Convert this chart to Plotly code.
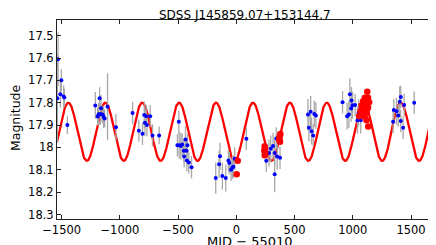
import numpy as np
import plotly.graph_objects as go

title_text = "SDSS J145859.07+153144.7"
x_label = "MJD \u2212 55010"
y_label = "Magnitude"

# Blue photometry: MJD-55010, magnitude, error
blue_t = [-1537, -1531, -1511, -1503, -1483, -1477, -1451,
          -1211, -1174, -1162, -1183, -1191, -1168, -1148, -1140, -1131, -1106, -1034,
          -891, -837, -806, -791, -785, -774, -768, -740, -720, -663,
          -494, -506, -491, -477, -465, -437, -420, -451, -428, -448, -425, -408, -385,
          -177, -148, -140, -120, -91, -68, -60, -45, -34, -26, -14, 86,
          257, 280, 295, 315, 329, 343, 351, 375, 329,
          615, 638, 669, 683, 623, 646, 660,
          912, 975, 989, 998, 1020, 986, 966, 951, 1050, 1040, 1068,
          1352, 1375, 1412, 1403, 1441, 1390, 1412, 1346, 1432, 1527]
blue_mag = [17.780, 17.606, 17.762, 17.700, 17.772, 17.777, 17.900,
            17.812, 17.780, 17.825, 17.851, 17.862, 17.850, 17.853, 17.863, 17.870, 17.818, 17.910,
            17.846, 17.925, 17.939, 17.855, 17.890, 17.860, 17.900, 17.860, 17.946, 17.946,
            17.885, 17.990, 17.990, 17.994, 17.987, 17.964, 17.990, 18.015, 18.015, 18.040, 18.058, 18.067, 18.088,
            18.137, 18.075, 18.039, 18.128, 18.137, 18.058, 18.070, 18.100, 18.090, 18.086, 18.050, 17.961,
            18.060, 18.025, 18.006, 17.994, 18.025, 17.960, 18.040, 18.046, 18.120,
            17.853, 17.840, 17.850, 17.857, 17.912, 17.927, 17.946,
            17.798, 17.762, 17.790, 17.811, 17.810, 17.826, 17.853, 17.860, 17.845, 17.878, 17.878,
            17.833, 17.838, 17.774, 17.796, 17.810, 17.857, 17.882, 17.885, 17.912, 17.800]
blue_err = [0.20, 0.12, 0.06, 0.05, 0.05, 0.04, 0.04,
            0.06, 0.05, 0.06, 0.05, 0.04, 0.05, 0.04, 0.05, 0.04, 0.15, 0.06,
            0.05, 0.05, 0.05, 0.06, 0.06, 0.05, 0.05, 0.05, 0.05, 0.04,
            0.05, 0.05, 0.06, 0.06, 0.05, 0.06, 0.05, 0.05, 0.05, 0.05, 0.05, 0.05, 0.05,
            0.07, 0.06, 0.06, 0.06, 0.06, 0.05, 0.05, 0.05, 0.05, 0.05, 0.05, 0.05,
            0.05, 0.06, 0.06, 0.06, 0.06, 0.05, 0.06, 0.05, 0.08,
            0.07, 0.07, 0.06, 0.06, 0.06, 0.06, 0.05,
            0.05, 0.07, 0.06, 0.06, 0.05, 0.06, 0.06, 0.06, 0.06, 0.06, 0.06,
            0.05, 0.06, 0.05, 0.07, 0.05, 0.05, 0.05, 0.05, 0.05, 0.05]

# Red photometry
red_t = [3, 12,
         243, 246, 240, 248, 243,
         378, 372, 368, 375,
         1124, 1103, 1131, 1089, 1140, 1112, 1075, 1131, 1094, 1066, 1118, 1083, 1054, 1103, 1118, 1132]
red_mag = [18.120, 18.060,
           17.995, 18.005, 18.015, 18.025, 18.035,
           17.940, 17.952, 17.965, 17.975,
           17.751, 17.778, 17.778, 17.793, 17.798, 17.808, 17.812, 17.823, 17.830, 17.838, 17.842, 17.853, 17.860, 17.863, 17.878, 17.906]

# Sinusoidal model parameters
model_period = 317.0
model_mean = 17.93
model_amp = 0.13
model_t_faint = -1284.0

x_ticks = [-1500, -1000, -500, 0, 500, 1000, 1500]
x_ticktext = ["\u22121500", "\u22121000", "\u2212500", "0", "500", "1000", "1500"]
y_ticks = [17.5, 17.6, 17.7, 17.8, 17.9, 18.0, 18.1, 18.2, 18.3]
y_ticktext = ["17.5", "17.6", "17.7", "17.8", "17.9", "18", "18.1", "18.2", "18.3"]

t_model = np.linspace(-1540, 1680, 1200)
mag_model = model_mean + model_amp * np.cos(2 * np.pi * (t_model - model_t_faint) / model_period)

fig = go.Figure()
fig.add_trace(go.Scatter(x=t_model, y=mag_model, mode="lines",
                         line=dict(color="#FF0000", width=2.3), hoverinfo="skip"))
fig.add_trace(go.Scatter(x=blue_t, y=blue_mag, mode="markers",
                         marker=dict(color="#0000FF", size=4),
                         error_y=dict(type="data", array=blue_err, visible=True,
                                      color="#A8A8A8", thickness=1.3, width=0)))
fig.add_trace(go.Scatter(x=red_t, y=red_mag, mode="markers",
                         marker=dict(color="#FF0000", size=6.5)))

font_family = "DejaVu Sans, Arial, sans-serif"
axis_common = dict(showgrid=False, zeroline=False, showline=True, linecolor="#222222",
                   linewidth=1, mirror="ticks", ticks="inside", ticklen=4,
                   tickcolor="#222222", tickfont=dict(family=font_family, size=11.5, color="#000"))

fig.update_xaxes(range=[-1540, 1680], tickvals=x_ticks, ticktext=x_ticktext, **axis_common)
fig.update_yaxes(range=[18.32, 17.43], tickvals=y_ticks, ticktext=y_ticktext, **axis_common)

fig.update_layout(
    width=428, height=237,
    margin=dict(l=49, r=4, t=12, b=26),
    plot_bgcolor="white", paper_bgcolor="white",
    showlegend=False,
    annotations=[
        dict(text=title_text, xref="paper", yref="paper", x=0.5, y=1.0, yshift=5,
             xanchor="center", yanchor="middle", showarrow=False,
             font=dict(family=font_family, size=12, color="#000")),
        dict(text=x_label, xref="paper", yref="paper", x=0.515, y=0, yshift=-22,
             xanchor="center", yanchor="middle", showarrow=False,
             font=dict(family=font_family, size=13, color="#000")),
        dict(text=y_label, xref="paper", yref="paper", x=0, xshift=-42, y=0.5075,
             xanchor="center", yanchor="middle", showarrow=False, textangle=-90,
             font=dict(family=font_family, size=12.5, color="#000")),
    ],
)

fig.write_html("out.html")
